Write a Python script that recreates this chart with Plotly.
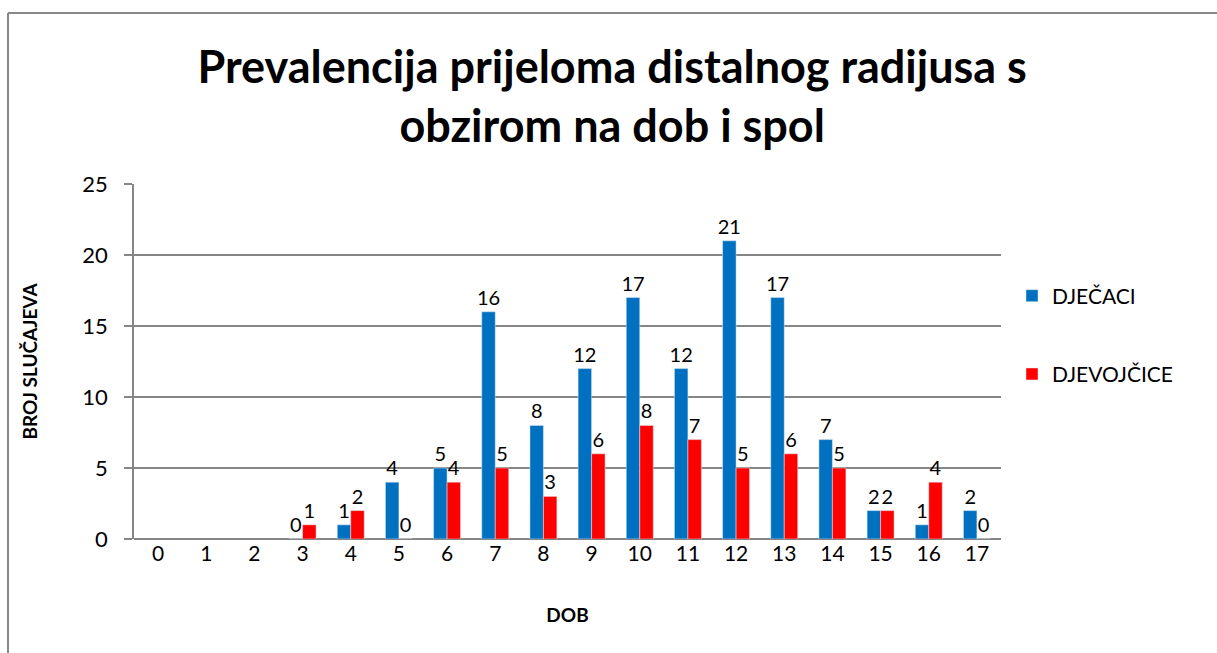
import plotly.graph_objects as go

categories = [str(i) for i in range(18)]
djecaci = [None, None, None, 0, 1, 4, 5, 16, 8, 12, 17, 12, 21, 17, 7, 2, 1, 2]
djevojcice = [None, None, None, 1, 2, 0, 4, 5, 3, 6, 8, 7, 5, 6, 5, 2, 4, 0]
series_names = ["DJEČACI", "DJEVOJČICE"]
colors = ["#0070C0", "#FF0000"]
y_ticks = [0, 5, 10, 15, 20, 25]

FONT = "Lato"
W, H = 1217, 653
ML, MR, MT, MB = 134, 216, 184, 114
PW, PH = W - ML - MR, H - MT - MB

def lbl(vals):
    return ["" if v is None else str(v) for v in vals]

fig = go.Figure()
for name, vals, col, grp in zip(series_names, [djecaci, djevojcice], colors, ["a", "b"]):
    fig.add_trace(go.Bar(
        x=categories, y=vals, name=name, marker_color=col,
        text=lbl(vals), textposition="outside", cliponaxis=False,
        constraintext="none",
        textfont=dict(family=FONT, size=20, color="black"),
        legendgroup=grp,
    ))

def px_x(p):
    return (p - ML) / PW

def px_y(p):
    return (H - MB - p) / PH

fig.update_layout(
    width=W, height=H,
    margin=dict(l=ML, r=MR, t=MT, b=MB),
    paper_bgcolor="white", plot_bgcolor="white",
    barmode="group", bargap=0.44, bargroupgap=0,
    font=dict(family=FONT, color="black"),
    title=dict(text="<b>Prevalencija prijeloma distalnog radijusa s<br>obzirom na dob i spol</b>",
               x=0.503, xanchor="center", y=1 - 83 / H, yanchor="middle",
               font=dict(family=FONT, size=45, color="black")),
    xaxis=dict(title=dict(text="<b>DOB</b>", font=dict(family=FONT, size=19), standoff=44),
               tickfont=dict(family=FONT, size=21), showline=False, ticks="",
               showgrid=False, type="category"),
    yaxis=dict(title=dict(text="<b>BROJ SLUČAJEVA</b>", font=dict(family=FONT, size=19), standoff=40),
               range=[0, 25], tickvals=y_ticks, tickfont=dict(family=FONT, size=22),
               ticklabelstandoff=12,
               showgrid=True, gridcolor="#868686", gridwidth=1.5,
               showline=True, linecolor="#868686", linewidth=1.5,
               ticks="outside", ticklen=8, tickcolor="#868686", tickwidth=1.5,
               zeroline=True, zerolinecolor="#868686", zerolinewidth=1.5),
    legend=dict(x=px_x(1012), xanchor="left", y=px_y(335), yanchor="middle",
                font=dict(family=FONT, size=21), tracegroupgap=48,
                itemwidth=30, bgcolor="rgba(0,0,0,0)"),
    shapes=[
        dict(type="line", xref="paper", yref="paper", x0=px_x(8), x1=px_x(W + 5),
             y0=px_y(13), y1=px_y(13), line=dict(color="#888888", width=2)),
        dict(type="line", xref="paper", yref="paper", x0=px_x(8), x1=px_x(8),
             y0=px_y(13), y1=px_y(H + 5), line=dict(color="#888888", width=2)),
    ],
)

fig.write_html("out.html", config={"displayModeBar": False},
               post_script="document.body.style.margin='0';document.body.style.overflow='hidden';")
